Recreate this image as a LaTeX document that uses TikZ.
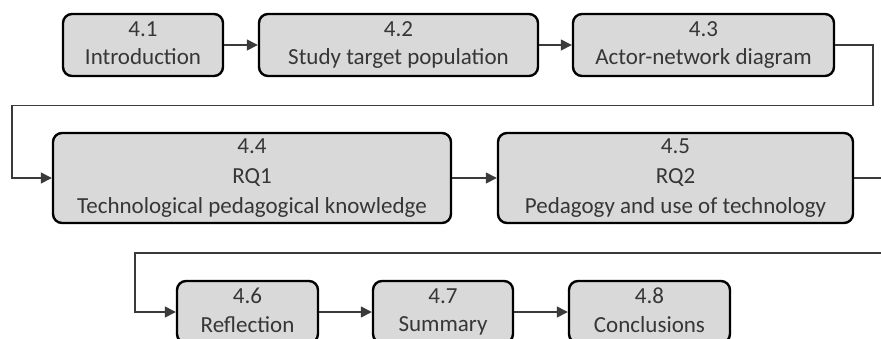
\documentclass[tikz,border=0pt]{standalone}
\usepackage{fontspec}
\setmainfont{Carlito}
\usetikzlibrary{arrows.meta}
\definecolor{boxfill}{HTML}{D9D9D9}
\definecolor{txt}{HTML}{363636}
\definecolor{wire}{HTML}{3A3A3A}
\tikzset{
  stage/.style={draw=black, line width=2.4pt, fill=boxfill, rounded corners=9pt,
    inner sep=0pt, align=center, text=txt,
    font=\fontsize{23}{30}\selectfont},
  short/.style={font=\fontsize{23}{28.5}\selectfont, text depth=4pt},
  conn/.style={draw=wire, line width=1.4pt, -{Triangle[length=11pt,width=11pt]}},
}
\begin{document}
\begin{tikzpicture}[x=1pt, y=-1pt]
  \useasboundingbox (0,0) rectangle (881,338);
  \clip (0,0) rectangle (881,338);

  % first row
  \node[stage, short, minimum width=160pt, minimum height=62pt] (n41) at (143,45) {4.1\\Introduction};
  \node[stage, short, minimum width=279pt, minimum height=62pt] (n42) at (398.5,45) {4.2\\Study target population};
  \node[stage, short, minimum width=261pt, minimum height=62pt] (n43) at (703.5,45) {4.3\\Actor-network diagram};

  % second row
  \node[stage, minimum width=398pt, minimum height=90pt] (n44) at (252,178) {4.4\\RQ1\\Technological pedagogical knowledge};
  \node[stage, minimum width=355pt, minimum height=90pt] (n45) at (675.5,178) {4.5\\RQ2\\Pedagogy and use of technology};

  % third row
  \node[stage, short, minimum width=141pt, minimum height=62pt] (n46) at (247.5,312) {4.6\\Reflection};
  \node[stage, short, minimum width=140pt, minimum height=62pt] (n47) at (443,312) {4.7\\Summary};
  \node[stage, short, minimum width=161pt, minimum height=62pt] (n48) at (649.5,312) {4.8\\Conclusions};

  % turning points of the wrap-around connectors
  \coordinate (t1) at (873,105.5);
  \coordinate (t2) at (12,105.5);
  \coordinate (r1) at (900,253);
  \coordinate (r2) at (135,253);

  \draw[conn] (n41) -- (n42);
  \draw[conn] (n42) -- (n43);
  \draw[conn] (n43.east) -| (t1) -- (t2) |- (n44.west);
  \draw[conn] (n44) -- (n45);
  \draw[conn] (n45.east) -| (r1) -- (r2) |- (n46.west);
  \draw[conn] (n46) -- (n47);
  \draw[conn] (n47) -- (n48);
\end{tikzpicture}
\end{document}
